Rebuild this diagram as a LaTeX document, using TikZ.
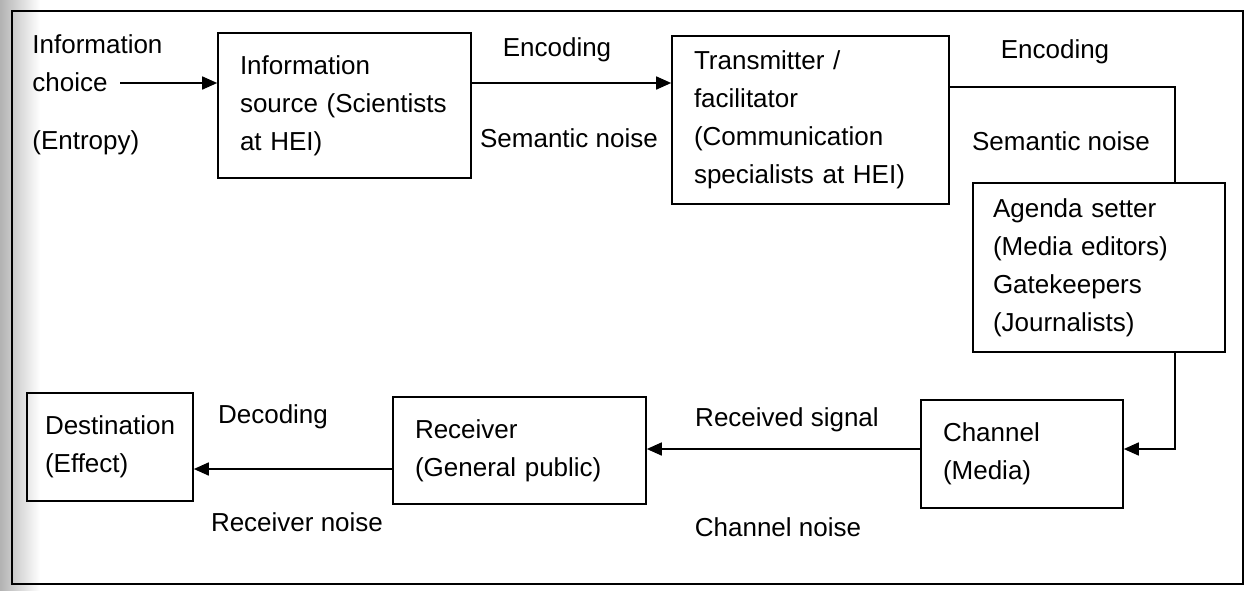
\documentclass[tikz,border=0pt]{standalone}
\usepackage{fontspec}
\setmainfont{Liberation Sans}
\usetikzlibrary{arrows.meta}
\newcommand{\diagfont}{\fontsize{13}{19}\selectfont}
\tikzset{
  % boxes of the model
  stagebox/.style={draw,line width=0.8pt,align=left,inner xsep=11pt,inner ysep=0pt,
    font=\diagfont,execute at begin node={\hyphenpenalty=10000\relax}},
  % free labels (coding / noise)
  noiselbl/.style={inner sep=0pt,font=\diagfont},
  % connectors
  flowline/.style={line width=0.8pt},
  flowarrow/.style={flowline,-{Triangle[length=7.5pt,width=6.5pt]}},
}
\begin{document}
\begin{tikzpicture}[x=0.5pt,y=-0.5pt]
\useasboundingbox (0,0) rectangle (1246,590);
%% ---- page frame ----
\shade[left color=black!30,right color=white] (0,0) rectangle (40,590);
\draw[line width=0.9pt] (12,11) rectangle (1243,584);

%% ---- top row ----
\node[noiselbl,align=left,anchor=north west] (choice) at (32,34)
  {Information\\choice\\[10pt](Entropy)};
\node[stagebox,minimum width=126.5pt,minimum height=72.5pt,text width=104.5pt]
  (source) at (344.5,105.5) {Information\\source (Scientists\\at HEI)};
\node[stagebox,minimum width=138.5pt,minimum height=84pt,text width=116.5pt]
  (trans) at (810.5,120) {Transmitter /\\facilitator\\(Communication\\specialists at HEI)};

%% ---- right column ----
\node[stagebox,inner xsep=10pt,minimum width=126pt,minimum height=84.5pt,text width=106pt]
  (agenda) at (1099,267.5) {Agenda setter\\(Media editors)\\Gatekeepers\\(Journalists)};
\node[stagebox,minimum width=101pt,minimum height=54pt,text width=79pt]
  (channel) at (1022,454) {Channel\\(Media)};

%% ---- bottom row ----
\node[stagebox,minimum width=126.5pt,minimum height=53.5pt,text width=104.5pt]
  (receiver) at (519.5,450.5) {Receiver\\(General public)};
\node[stagebox,inner xsep=9pt,minimum width=83pt,minimum height=54pt,text width=65pt]
  (dest) at (110,447) {Destination\\(Effect)};

%% ---- connectors ----
\coordinate (start) at (120,83);
\coordinate (bendA) at (1175,87);
\coordinate (bendB) at (1175,449);
\coordinate (low) at (0,469);
\draw[flowarrow] (start) -- (source.west |- start);
\draw[flowarrow] (source.east |- start) -- (trans.west |- start);
\draw[flowline] (trans.east |- bendA) -- (bendA) -- (bendA |- agenda.north);
\draw[flowarrow] (bendB |- agenda.south) -- (bendB) -- (channel.east |- bendB);
\draw[flowarrow] (channel.west |- bendB) -- (receiver.east |- bendB);
\draw[flowarrow] (receiver.west |- low) -- (dest.east |- low);

%% ---- connector labels ----
\node[noiselbl,anchor=base] (enc1) at (557,56) {Encoding};
\node[noiselbl,anchor=base] (sem1) at (569,147) {Semantic noise};
\node[noiselbl,anchor=base] (enc2) at (1055,58) {Encoding};
\node[noiselbl,anchor=base] (sem2) at (1061,150) {Semantic noise};
\node[noiselbl,anchor=base] (recsig) at (787,426) {Received signal};
\node[noiselbl,anchor=base] (chnoise) at (778,536) {Channel noise};
\node[noiselbl,anchor=base] (dec) at (273,423) {Decoding};
\node[noiselbl,anchor=base] (recnoise) at (297,531) {Receiver noise};
\end{tikzpicture}
\end{document}
